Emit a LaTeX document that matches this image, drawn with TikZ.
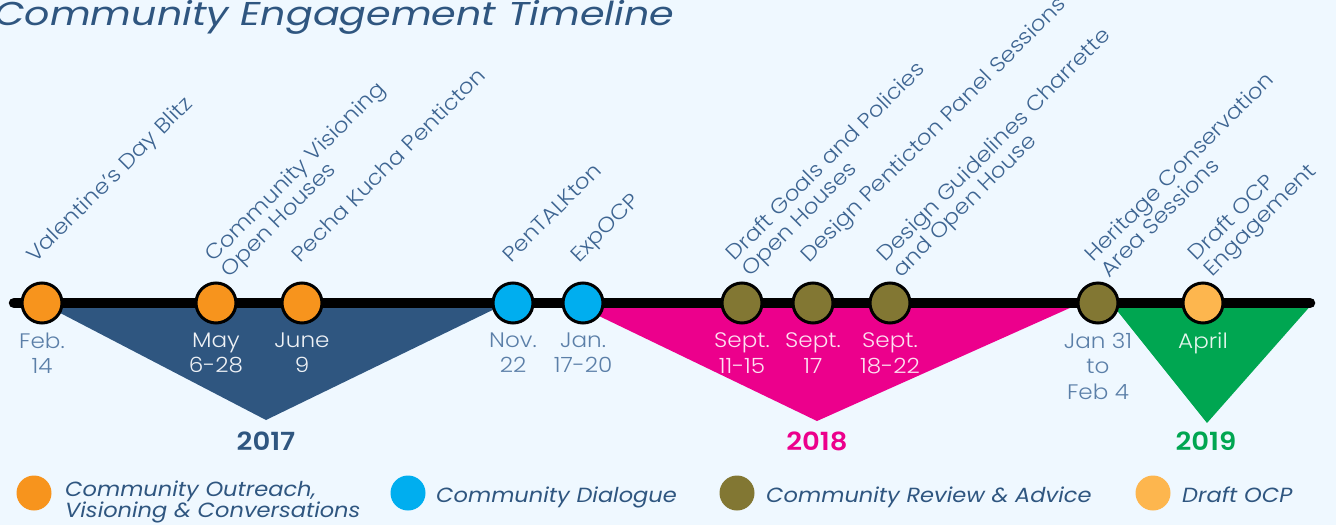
\documentclass[tikz,border=0pt]{standalone}
\usepackage{fontspec}
\setmainfont{Poppins}[FakeStretch=1.1]
\newfontfamily\lightfont{Poppins}[UprightFont=* Light, ItalicFont=* Light Italic, FakeStretch=1.1]
\newfontfamily\semifont{Poppins}[UprightFont=* SemiBold, FakeStretch=1.1]
\newfontfamily\titlefont{Poppins}[FakeStretch=1.2]
\usetikzlibrary{positioning}

\definecolor{bgblue}{HTML}{EFF8FF}
\definecolor{navy}{HTML}{2F5680}
\definecolor{textblue}{HTML}{3E6592}
\definecolor{dateblue}{HTML}{5B7FA8}
\definecolor{outreach}{HTML}{F7941D}
\definecolor{dialogue}{HTML}{00AEEF}
\definecolor{review}{HTML}{827733}
\definecolor{draftocp}{HTML}{FDB64E}
\definecolor{pink18}{HTML}{EC008C}
\definecolor{green19}{HTML}{00A651}

\begin{document}
\begin{tikzpicture}[x=1pt,y=-1pt,
    event/.style={circle,draw=black,line width=3pt,minimum size=40pt,inner sep=0pt},
    evlabel/.style={font=\lightfont\fontsize{21}{22}\selectfont,text=textblue,
      rotate=45,anchor=base west,align=left,inner sep=0pt},
    datelbl/.style={font=\lightfont\fontsize{21}{25.5}\selectfont,align=center,inner sep=0pt},
    year/.style={font=\semifont\fontsize{25}{25}\selectfont,anchor=base},
    legdot/.style={circle,minimum size=35pt,inner sep=0pt},
    legtext/.style={font=\itshape\fontsize{20.5}{21}\selectfont,text=navy,align=left,
      inner sep=0pt,anchor=base west}
  ]
  \fill[bgblue] (0,0) rectangle (1336,525);
  \useasboundingbox (0,0) rectangle (1336,525);

  % title
  \node[font=\titlefont\itshape\fontsize{33}{33}\selectfont,text=navy,anchor=base west,inner sep=0pt]
    (title) at (-6,25) {Community Engagement Timeline};

  % year bands
  \fill[navy] (41,303) -- (507,303) -- (266,420) -- cycle;
  \fill[pink18] (572,303) -- (1081,303) -- (817,421) -- cycle;
  \fill[green19] (1111,303) -- (1313,303) -- (1207,423) -- cycle;

  \node[year,text=navy] (y17) at (266,450) {2017};
  \node[year,text=pink18] (y18) at (817,450) {2018};
  \node[year,text=green19] (y19) at (1206,450) {2019};

  % time line
  \coordinate (tl-start) at (14,303);
  \coordinate (tl-end) at (1310,303);
  \draw[line width=10.5pt,line cap=round] (tl-start) -- (tl-end);

  \foreach \x/\c [count=\i] in {42/outreach,216/outreach,302/outreach,513/dialogue,583/dialogue,
      742/review,813/review,890/review,1098/review,1203/draftocp}
    \node[event,fill=\c] (e\i) at (\x,303) {};

  % events (two-line labels sit on their last line)
  \node[evlabel] (l1) at ([xshift=-7pt,yshift=18pt]e1.north) {Valentine’s Day Blitz};
  \node[evlabel] (l2) at ([xshift=13pt,yshift=3pt]e2.north) {Community Visioning\\Open Houses};
  \node[evlabel] (l3) at ([xshift=-2pt,yshift=18pt]e3.north) {Pecha Kucha Penticton};
  \node[evlabel] (l4) at ([xshift=-2pt,yshift=18pt]e4.north) {PenTALKton};
  \node[evlabel] (l5) at ([xshift=-4pt,yshift=18pt]e5.north) {ExpOCP};
  \node[evlabel] (l6) at ([xshift=8pt,yshift=4pt]e6.north) {Draft Goals and Policies\\Open Houses};
  \node[evlabel] (l7) at ([xshift=-4pt,yshift=18pt]e7.north) {Design Penticton Panel Sessions};
  \node[evlabel] (l8) at ([xshift=11pt,yshift=3pt]e8.north) {Design Guidelines Charrette\\and Open House};
  \node[evlabel] (l9) at ([xshift=11pt,yshift=3pt]e9.north) {Heritage Conservation\\Area Sessions};
  \node[evlabel] (l10) at ([xshift=9pt,yshift=4pt]e10.north) {Draft OCP\\Engagement};

  % dates
  \node[datelbl,text=dateblue,below=8pt of e1] (d1) {Feb.\\14};
  \node[datelbl,text=white!92!navy,below=8pt of e2] (d2) {May\\6-28};
  \node[datelbl,text=white!92!navy,below=8pt of e3] (d3) {June\\9};
  \node[datelbl,text=dateblue,below=8pt of e4] (d4) {Nov.\\22};
  \node[datelbl,text=dateblue,below=8pt of e5] (d5) {Jan.\\17-20};
  \node[datelbl,text=white!88!pink18,below=8pt of e6] (d6) {Sept.\\11-15};
  \node[datelbl,text=white!88!pink18,below=8pt of e7] (d7) {Sept.\\17};
  \node[datelbl,text=white!88!pink18,below=8pt of e8] (d8) {Sept.\\18-22};
  \node[datelbl,text=dateblue,below=8pt of e9] (d9) {Jan 31\\to\\Feb 4};
  \node[datelbl,text=white!90!green19,below=8pt of e10] (d10) {April};

  % legend
  \node[legdot,fill=outreach] (k1) at (34,493) {};
  \node[legdot,fill=dialogue] (k2) at (408,493) {};
  \node[legdot,fill=review] (k3) at (737,493) {};
  \node[legdot,fill=draftocp] (k4) at (1153,493) {};
  \node[legtext] (t1) at (65,517) {Community Outreach,\\Visioning \& Conversations};
  \node[legtext] (t2) at (436,502) {Community Dialogue};
  \node[legtext] (t3) at (766,502) {Community Review \& Advice};
  \node[legtext] (t4) at (1182,502) {Draft OCP};
\end{tikzpicture}
\end{document}
